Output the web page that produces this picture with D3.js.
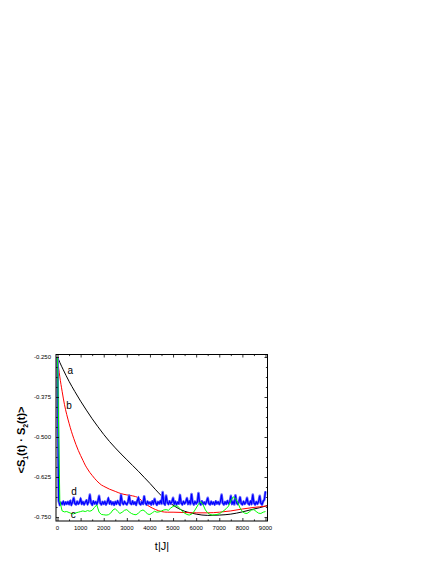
<!DOCTYPE html>
<html>
<head>
<meta charset="utf-8">
<script src="https://cdn.jsdelivr.net/npm/d3@7"></script>
<style>
  html, body { margin: 0; padding: 0; background: #fff; }
  svg { display: block; }
  text { font-family: "Liberation Sans", Arial, sans-serif; fill: #000; }
</style>
</head>
<body>
<svg id="chart" width="436" height="564"></svg>
<script>
// ---- data ----
const xTicks = [0, 1000, 2000, 3000, 4000, 5000, 6000, 7000, 8000, 9000];
const yTicks = [-0.250, -0.375, -0.500, -0.625, -0.750];
const yTickLabels = ["-0.250", "-0.375", "-0.500", "-0.625", "-0.750"];

// curve a (black): [t, value]
const curveA = [[0,-0.250],[100,-0.267],[250,-0.290],[500,-0.326],[750,-0.358],[1000,-0.388],[1250,-0.416],[1500,-0.443],[1750,-0.468],[2000,-0.492],[2250,-0.514],[2500,-0.534],[2750,-0.553],[3000,-0.571],[3250,-0.589],[3500,-0.607],[3750,-0.626],[4000,-0.645],[4250,-0.665],[4500,-0.684],[4750,-0.700],[5000,-0.713],[5250,-0.724],[5500,-0.732],[5750,-0.737],[6000,-0.741],[6500,-0.745],[7000,-0.744],[7500,-0.741],[8000,-0.734],[8500,-0.725],[9000,-0.716],[9080,-0.714]];

// curve b (red): [t, value]
const curveB = [[0,-0.250],[50,-0.285],[100,-0.312],[200,-0.357],[300,-0.398],[400,-0.430],[500,-0.457],[600,-0.482],[700,-0.504],[800,-0.524],[900,-0.542],[1000,-0.558],[1100,-0.573],[1200,-0.588],[1300,-0.600],[1400,-0.611],[1500,-0.620],[1600,-0.629],[1700,-0.637],[1800,-0.644],[1900,-0.650],[2000,-0.654],[2250,-0.663],[2500,-0.670],[2750,-0.677],[3000,-0.681],[3250,-0.684],[3500,-0.690],[3750,-0.706],[4000,-0.718],[4250,-0.727],[4500,-0.733],[4750,-0.735],[5000,-0.735],[5500,-0.736],[6000,-0.737],[6500,-0.737],[7000,-0.735],[7500,-0.731],[8000,-0.725],[8500,-0.720],[9000,-0.716],[9080,-0.715]];

// curve c (green): sampled every 100 from t = 0
const cStep = 100;
const curveC = [-0.250,-0.700,-0.731,-0.734,-0.733,-0.736,-0.739,-0.740,-0.737,-0.735,
  -0.733,-0.731,-0.733,-0.730,-0.732,-0.729,-0.720,-0.712,-0.735,-0.742,
  -0.743,-0.744,-0.743,-0.738,-0.728,-0.724,-0.732,-0.739,-0.735,-0.729,
  -0.727,-0.734,-0.739,-0.742,-0.743,-0.738,-0.731,-0.728,-0.733,-0.741,
  -0.742,-0.737,-0.732,-0.735,-0.734,-0.731,-0.728,-0.727,-0.729,-0.722,
  -0.717,-0.715,-0.716,-0.724,-0.732,-0.738,-0.742,-0.744,-0.741,-0.734,
  -0.722,-0.710,-0.702,-0.712,-0.728,-0.737,-0.742,-0.744,-0.743,-0.742,
  -0.740,-0.735,-0.730,-0.724,-0.716,-0.700,-0.687,-0.692,-0.705,-0.722,
  -0.733,-0.738,-0.739,-0.734,-0.728,-0.727,-0.733,-0.738,-0.739,-0.735,
  -0.733];

// curve d (blue): sampled every 50 from t = 0
const dStep = 50;
const curveD = [-0.250,-0.700,-0.712,-0.705,-0.710,-0.702,-0.711,-0.704,-0.709,-0.703,
  -0.710,-0.700,-0.712,-0.703,-0.690,-0.708,-0.711,-0.702,-0.709,-0.705,
  -0.693,-0.709,-0.703,-0.711,-0.704,-0.698,-0.710,-0.702,-0.680,-0.706,
  -0.712,-0.701,-0.708,-0.703,-0.710,-0.700,-0.684,-0.707,-0.711,-0.703,
  -0.709,-0.702,-0.711,-0.704,-0.692,-0.708,-0.701,-0.710,-0.704,-0.712,
  -0.703,-0.709,-0.700,-0.707,-0.712,-0.681,-0.705,-0.710,-0.702,-0.708,
  -0.711,-0.703,-0.683,-0.707,-0.710,-0.701,-0.709,-0.704,-0.712,-0.700,
  -0.690,-0.708,-0.711,-0.703,-0.709,-0.685,-0.706,-0.711,-0.702,-0.708,
  -0.704,-0.711,-0.701,-0.709,-0.693,-0.706,-0.712,-0.703,-0.708,-0.700,
  -0.709,-0.672,-0.707,-0.711,-0.683,-0.704,-0.710,-0.701,-0.708,-0.703,
  -0.690,-0.709,-0.702,-0.711,-0.704,-0.708,-0.681,-0.706,-0.711,-0.702,
  -0.708,-0.703,-0.691,-0.709,-0.701,-0.710,-0.678,-0.705,-0.711,-0.702,
  -0.708,-0.703,-0.675,-0.707,-0.711,-0.701,-0.709,-0.704,-0.710,-0.702,
  -0.690,-0.708,-0.711,-0.702,-0.709,-0.704,-0.711,-0.701,-0.708,-0.703,
  -0.710,-0.702,-0.680,-0.707,-0.711,-0.703,-0.709,-0.700,-0.708,-0.704,
  -0.684,-0.709,-0.702,-0.711,-0.682,-0.706,-0.710,-0.703,-0.688,-0.708,
  -0.711,-0.702,-0.709,-0.704,-0.690,-0.708,-0.711,-0.701,-0.709,-0.680,
  -0.706,-0.711,-0.703,-0.709,-0.702,-0.684,-0.707,-0.711,-0.701,-0.696,
  -0.670];

const curveLabels = [
  {text: "a", t: 550, v: -0.302},
  {text: "b", t: 500, v: -0.413},
  {text: "d", t: 720, v: -0.682},
  {text: "c", t: 680, v: -0.754}
];

// ---- layout ----
const svg = d3.select("#chart");
const L = 56, R = 267.5, T = 354.5, B = 521;
const x = d3.scaleLinear().domain([-65, 9087]).range([L, R]);
const y = d3.scaleLinear().domain([-0.7625, -0.2422]).range([B, T]);

const xMinor = d3.range(500, 9000, 1000);
const yMinor = [];
for (let i = 0; i < yTicks.length - 1; i++) {
  for (let k = 1; k < 4; k++) yMinor.push(yTicks[i] - k * 0.03125);
}

const g = svg.append("g");

// curves
const lineXY = d3.line().x(d => x(d[0])).y(d => y(d[1]));
const lineSmooth = d3.line().x(d => x(d[0])).y(d => y(d[1])).curve(d3.curveMonotoneX);

const plot = g.append("g");
plot.append("path").datum(curveA).attr("d", lineSmooth)
  .attr("fill", "none").attr("stroke", "#000").attr("stroke-width", 1);
plot.append("path").datum(curveB).attr("d", lineSmooth)
  .attr("fill", "none").attr("stroke", "#ff0000").attr("stroke-width", 1);
const blueData = curveD.map((v, i) => [i * dStep, v]);
plot.append("path").datum(blueData).attr("d", lineXY)
  .attr("fill", "none").attr("stroke", "#6c6cff").attr("stroke-width", 2.6)
  .attr("stroke-linejoin", "round");
plot.append("path").datum(blueData).attr("d", lineXY)
  .attr("fill", "none").attr("stroke", "#0000ff").attr("stroke-width", 1.2);
plot.append("path").datum(curveC.map((v, i) => [i * cStep, v])).attr("d", lineXY)
  .attr("fill", "none").attr("stroke", "#00ff00").attr("stroke-width", 1);

// frame
g.append("rect").attr("x", L).attr("y", T).attr("width", R - L).attr("height", B - T)
  .attr("fill", "none").attr("stroke", "#000").attr("stroke-width", 1);

// axes (inward ticks on all four sides)
const majorLen = 3, minorLen = 1.6;
const axBottom = g.append("g").attr("transform", `translate(0,${B})`)
  .call(d3.axisBottom(x).tickValues(xTicks).tickSize(-majorLen).tickFormat(""));
const axBottomMinor = g.append("g").attr("transform", `translate(0,${B})`)
  .call(d3.axisBottom(x).tickValues(xMinor).tickSize(-minorLen).tickFormat(""));
const axTop = g.append("g").attr("transform", `translate(0,${T})`)
  .call(d3.axisTop(x).tickValues(xTicks).tickSize(-majorLen).tickFormat(""));
const axTopMinor = g.append("g").attr("transform", `translate(0,${T})`)
  .call(d3.axisTop(x).tickValues(xMinor).tickSize(-minorLen).tickFormat(""));
const axLeft = g.append("g").attr("transform", `translate(${L},0)`)
  .call(d3.axisLeft(y).tickValues(yTicks).tickSize(-majorLen).tickFormat(""));
const axLeftMinor = g.append("g").attr("transform", `translate(${L},0)`)
  .call(d3.axisLeft(y).tickValues(yMinor).tickSize(-minorLen).tickFormat(""));
const axRight = g.append("g").attr("transform", `translate(${R},0)`)
  .call(d3.axisRight(y).tickValues(yTicks).tickSize(-majorLen).tickFormat(""));
const axRightMinor = g.append("g").attr("transform", `translate(${R},0)`)
  .call(d3.axisRight(y).tickValues(yMinor).tickSize(-minorLen).tickFormat(""));
[axBottom, axBottomMinor, axTop, axTopMinor, axLeft, axLeftMinor, axRight, axRightMinor].forEach(a => {
  a.select(".domain").remove();
  a.selectAll("line").attr("stroke", "#000").attr("stroke-width", 0.8);
});

// tick labels
g.append("g").selectAll("text").data(xTicks).join("text")
  .attr("x", d => x(d)).attr("y", 530)
  .attr("text-anchor", "middle").attr("font-size", 6).text(d => d);
g.append("g").selectAll("text").data(yTicks).join("text")
  .attr("x", 51).attr("y", d => y(d) + 2)
  .attr("text-anchor", "end").attr("font-size", 6).text((d, i) => yTickLabels[i]);

// axis titles
g.append("text").attr("x", 162).attr("y", 550).attr("text-anchor", "middle")
  .attr("font-size", 11).text("t|J|");

const yt = g.append("text")
  .attr("transform", `translate(25,440) rotate(-90)`)
  .attr("text-anchor", "middle").attr("font-size", 11).attr("font-weight", "bold");
yt.append("tspan").text("<S");
yt.append("tspan").attr("font-size", 7).attr("dy", 3).text("1");
yt.append("tspan").attr("dy", -3).text("(t) · S");
yt.append("tspan").attr("font-size", 7).attr("dy", 3).text("2");
yt.append("tspan").attr("dy", -3).text("(t)>");

// curve labels
g.append("g").selectAll("text").data(curveLabels).join("text")
  .attr("x", d => x(d.t)).attr("y", d => y(d.v))
  .attr("text-anchor", "middle").attr("font-size", 10).text(d => d.text);
</script>
</body>
</html>
